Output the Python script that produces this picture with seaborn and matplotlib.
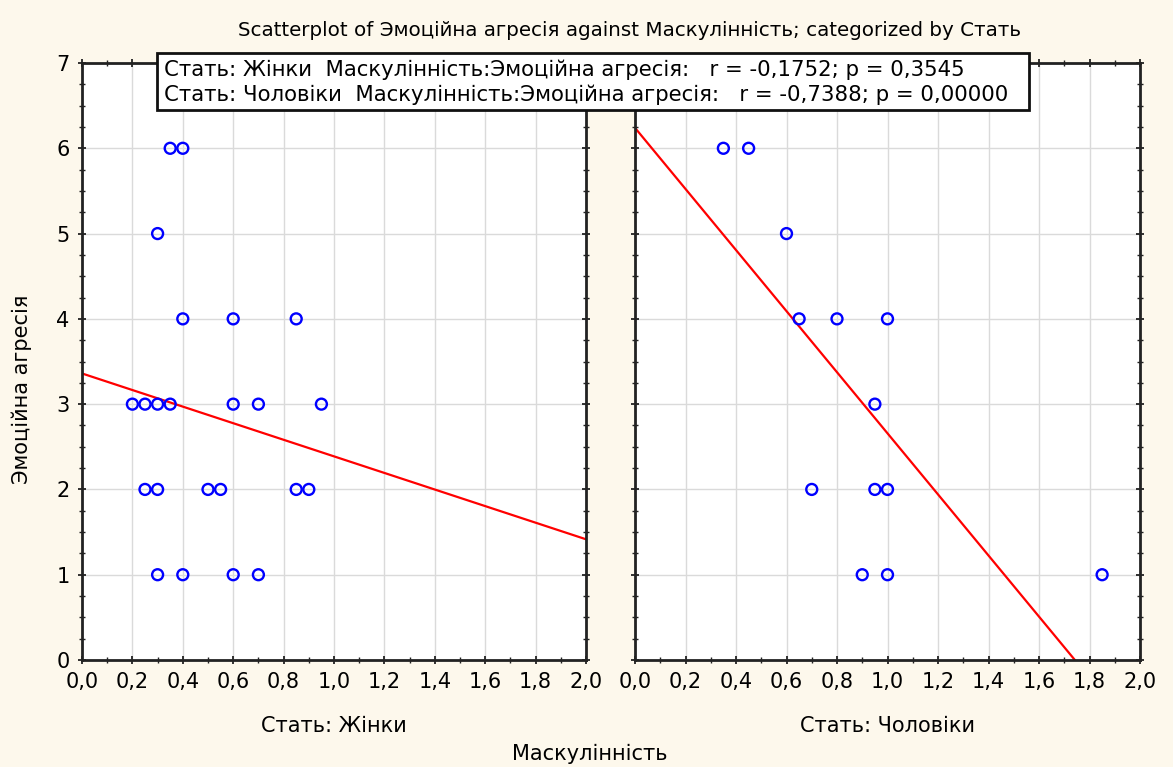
import matplotlib
matplotlib.use('Agg')
import matplotlib.pyplot as plt
from matplotlib.patches import Rectangle
from matplotlib.ticker import MultipleLocator
import pandas as pd
import seaborn as sns

# Дані
groups = ['Жінки', 'Чоловіки']
zhinky_x = [0.35, 0.40, 0.30, 0.40, 0.60, 0.85, 0.20, 0.25, 0.30, 0.35, 0.60, 0.70, 0.95,
            0.25, 0.30, 0.50, 0.55, 0.85, 0.90, 0.30, 0.40, 0.60, 0.70]
zhinky_y = [6, 6, 5, 4, 4, 4, 3, 3, 3, 3, 3, 3, 3, 2, 2, 2, 2, 2, 2, 1, 1, 1, 1]
cholovik_x = [0.35, 0.45, 0.60, 0.65, 0.80, 1.00, 0.95, 0.70, 0.95, 1.00, 0.90, 1.00, 1.85]
cholovik_y = [6, 6, 5, 4, 4, 4, 3, 2, 2, 2, 1, 1, 1]
stats_r = ['-0,1752', '-0,7388']
stats_p = ['0,3545', '0,00000']
x_ticks = [0.0, 0.2, 0.4, 0.6, 0.8, 1.0, 1.2, 1.4, 1.6, 1.8, 2.0]
x_tick_labels = ['0,0', '0,2', '0,4', '0,6', '0,8', '1,0', '1,2', '1,4', '1,6', '1,8', '2,0']
y_ticks = [0, 1, 2, 3, 4, 5, 6, 7]

df = pd.concat([
    pd.DataFrame({'Стать': groups[0], 'Маскулінність': zhinky_x, 'Эмоційна агресія': zhinky_y}),
    pd.DataFrame({'Стать': groups[1], 'Маскулінність': cholovik_x, 'Эмоційна агресія': cholovik_y}),
])

sns.set_style('ticks')
plt.rcParams['font.family'] = ['DejaVu Sans']
plt.rcParams['text.color'] = 'black'
plt.rcParams['xtick.labelcolor'] = 'black'
plt.rcParams['ytick.labelcolor'] = 'black'

W, H = 1173, 767
bg = '#fdf8ec'
fig = plt.figure(figsize=(W / 100, H / 100), dpi=100, facecolor=bg)
panels = [(82, 586), (635, 1140)]
axes = [fig.add_axes([l / W, 1 - 660 / H, (r - l) / W, 597 / H]) for l, r in panels]

for i, (ax, g) in enumerate(zip(axes, groups)):
    data = df[df['Стать'] == g]
    ax.set_facecolor('white')
    ax.set_xlim(0, 2)
    ax.set_ylim(0, 7)
    sns.regplot(data=data, x='Маскулінність', y='Эмоційна агресія', ax=ax, ci=None,
                truncate=False, color='red',
                scatter_kws={'facecolors': 'none', 'edgecolors': 'blue', 'linewidths': 1.7,
                             's': 62, 'alpha': 1, 'zorder': 3},
                line_kws={'color': 'red', 'lw': 1.6, 'zorder': 2})
    ax.set_xlim(0, 2)
    ax.set_ylim(0, 7)
    ax.set_xticks(x_ticks)
    ax.set_xticklabels(x_tick_labels)
    ax.set_yticks(y_ticks)
    ax.xaxis.set_minor_locator(MultipleLocator(0.1))
    ax.yaxis.set_minor_locator(MultipleLocator(0.25))
    ax.grid(True, which='major', color='#dadada', lw=1)
    ax.set_axisbelow(True)
    ax.tick_params(which='both', direction='inout', top=True, right=True, color='#222222')
    ax.tick_params(which='major', length=6, width=1.3, labelsize=15, pad=6)
    ax.tick_params(which='minor', length=4, width=1.0)
    for s in ax.spines.values():
        s.set_color('#222222')
        s.set_linewidth(2)
    ax.set_xlabel('')
    ax.set_ylabel('')
    if i == 1:
        ax.tick_params(axis='y', labelleft=False)
    # підпис панелі
    l, r = panels[i]
    fig.text((l + r) / 2 / W, 1 - 726 / H, f'Стать: {g}', ha='center', va='center', fontsize=15)

fig.text(630 / W, 1 - 30 / H,
         'Scatterplot of Эмоційна агресія against Маскулінність; categorized by Стать',
         ha='center', va='center', fontsize=14.3)
fig.text(590 / W, 1 - 754 / H, 'Маскулінність', ha='center', va='center', fontsize=15)
fig.text(22 / W, 1 - 389 / H, 'Эмоційна агресія', ha='center', va='center',
         rotation=90, fontsize=15)

# рамка з коефіцієнтами кореляції
fig.patches.append(Rectangle((157 / W, 1 - 110 / H), 872 / W, 57 / H,
                             transform=fig.transFigure, facecolor='white',
                             edgecolor='#111111', lw=2, zorder=5))
for k, g in enumerate(groups):
    fig.text(164 / W, 1 - (70 + 25 * k) / H,
             f'Стать: {g}  Маскулінність:Эмоційна агресія:   r = {stats_r[k]}; p = {stats_p[k]}',
             ha='left', va='center', fontsize=15.3, zorder=6)

fig.savefig('out.png', dpi=100, facecolor=bg)
